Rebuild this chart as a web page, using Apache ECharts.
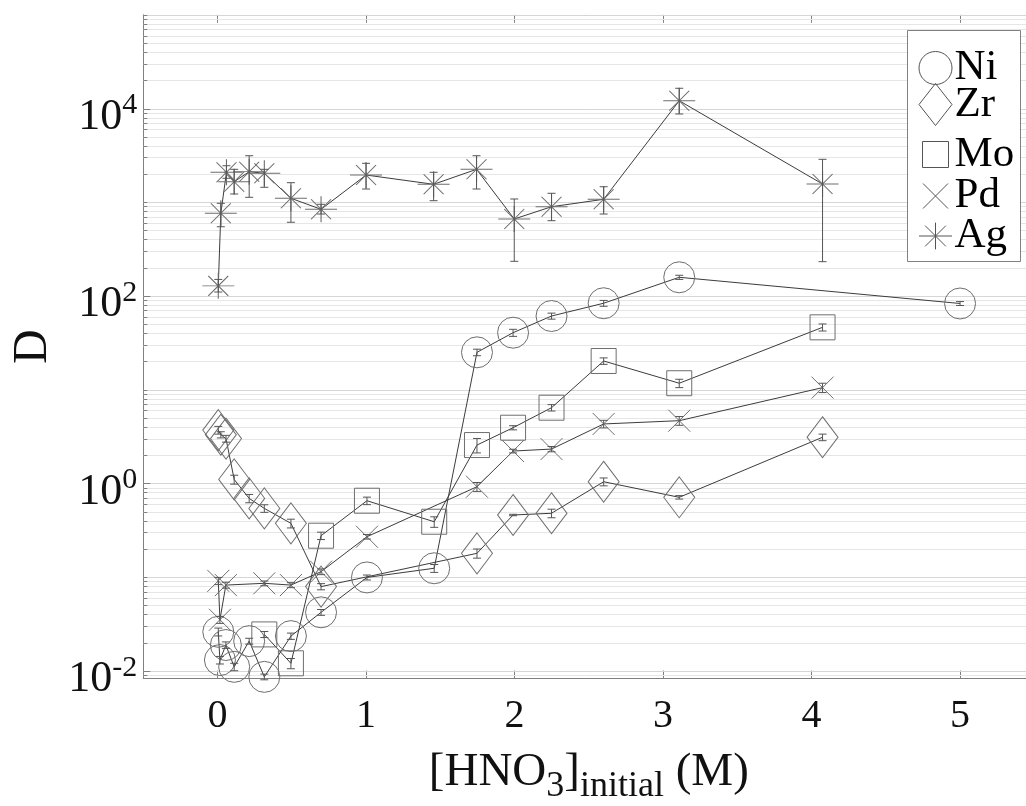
<!DOCTYPE html>
<html>
<head>
<meta charset="utf-8">
<script src="https://cdn.jsdelivr.net/npm/echarts@6/dist/echarts.min.js"></script>
<style>
  html, body { margin: 0; padding: 0; background: #fff; }
  #chart { width: 1026px; height: 806px; }
</style>
</head>
<body>
<div id="chart"></div>
<script>
// Distribution ratio D versus initial HNO3 concentration (M), per element.

const niX   = [0.005, 0.016, 0.056, 0.112, 0.213, 0.315, 0.494, 0.697, 1.006, 1.459, 1.747, 1.99, 2.249, 2.6, 3.109, 5.0];
const niD   = [0.026, 0.013, 0.0188, 0.011, 0.0207, 0.0086, 0.0234, 0.042, 0.099, 0.124, 25.0, 40.5, 61.0, 83.5, 158, 83];
const niErr = [0.0025, 0.0012, 0.0015, 0.001, 0.0015, 0.0006, 0.0018, 0.003, 0.006, 0.012, 2.0, 3.5, 4.5, 6.0, 8.0, 4.0];

const zrX   = [0.005, 0.022, 0.057, 0.112, 0.213, 0.315, 0.494, 0.697, 1.747, 1.99, 2.249, 2.6, 3.109, 4.074];
const zrD   = [3.7, 3.3, 3.0, 1.10, 0.69, 0.54, 0.374, 0.079, 0.179, 0.459, 0.479, 1.04, 0.709, 3.10];
const zrErr = [0.35, 0.25, 0.25, 0.12, 0.07, 0.05, 0.04, 0.006, 0.02, 0.008, 0.05, 0.1, 0.03, 0.25];

const moX   = [0.315, 0.494, 0.697, 1.006, 1.459, 1.747, 1.99, 2.249, 2.6, 3.109, 4.074];
const moD   = [0.0244, 0.0120, 0.276, 0.652, 0.389, 2.56, 3.92, 6.41, 20.2, 11.7, 46.2];
const moErr = [0.0018, 0.0015, 0.025, 0.06, 0.05, 0.45, 0.2, 0.5, 1.6, 1.2, 4.0];

const pdX   = [0.005, 0.016, 0.056, 0.315, 0.494, 0.697, 1.006, 1.747, 1.99, 2.249, 2.6, 3.109, 4.074];
const pdD   = [0.091, 0.035, 0.082, 0.0857, 0.082, 0.114, 0.269, 0.92, 2.21, 2.32, 4.30, 4.66, 10.5];
const pdErr = [0.008, 0.003, 0.006, 0.005, 0.005, 0.008, 0.015, 0.1, 0.1, 0.15, 0.4, 0.5, 1.2];

const agX    = [0.005, 0.022, 0.06, 0.112, 0.213, 0.315, 0.494, 0.697, 1.0, 1.455, 1.744, 1.998, 2.249, 2.6, 3.109, 4.074];
const agD    = [128, 762, 2085, 1656, 2118, 2034, 1102, 840, 1950, 1553, 2244, 662, 895, 1074, 12100, 1564];
const agLow  = [110, 547, 1800, 1224, 1128, 1443, 611, 748, 1383, 1038, 1383, 234, 635, 748, 8740, 232];
const agHigh = [150, 973, 2450, 2244, 3134, 2244, 1615, 950, 2600, 2085, 3134, 1082, 1245, 1463, 16440, 2870];

// Axis ranges and labelled decades
const xRange = [-0.5, 5.5];
const yRange = [0.00826, 1e5];
const yLabelExponents = [-2, 0, 2, 4];

const SERIF = 'Liberation Serif';
const MARK = '#6e6e6e';
const LINE = '#3c3c3c';
const AXIS = '#808080';

const SYM_X = 'path://M0,0 L20,20 M20,0 L0,20';
const SYM_STAR = 'path://M0,13 L32,13 M16,0 L16,26 M6,3 L26,23 M26,3 L6,23';

const elements = [
  { name: 'Ni', x: niX, d: niD, err: niErr, symbol: 'circle', size: 31, legendW: 33, legendH: 33 },
  { name: 'Zr', x: zrX, d: zrD, err: zrErr, symbol: 'diamond', size: [31, 41], legendW: 33, legendH: 42 },
  { name: 'Mo', x: moX, d: moD, err: moErr, symbol: 'rect', size: 25, legendW: 26, legendH: 26 },
  { name: 'Pd', x: pdX, d: pdD, err: pdErr, symbol: SYM_X, size: [22, 22], legendW: 25, legendH: 25 },
  { name: 'Ag', x: agX, d: agD, low: agLow, high: agHigh, symbol: SYM_STAR, size: [32, 26], legendW: 33, legendH: 27 }
];
const legendCenters = [63, 104, 146, 187, 228];

// Horizontal grid values: every 1..9 x 10^k inside the y range
const gridValues = [];
for (let k = -3; k <= 5; k++) {
  for (let m = 1; m <= 9; m++) {
    const v = m * Math.pow(10, k);
    if (v >= yRange[0] * 0.999 && v <= yRange[1] * 1.001) gridValues.push([xRange[0], v, m === 1 ? 1 : 0, k]);
  }
}

function renderGrid(params, api) {
  const v = api.value(1);
  const decade = api.value(2) === 1;
  const labelled = decade && yLabelExponents.indexOf(api.value(3)) >= 0;
  const p = api.coord([xRange[0], v]);
  const cs = params.coordSys;
  const y = Math.round(p[1]) + 0.5;
  return {
    type: 'group',
    children: [
      { type: 'line', shape: { x1: cs.x, y1: y, x2: cs.x + cs.width, y2: y },
        style: { stroke: decade ? '#d6d6d6' : '#e6e6e6', lineWidth: 1 } },
      { type: 'line', shape: { x1: cs.x, y1: y, x2: cs.x + (labelled ? 7 : 4), y2: y },
        style: { stroke: AXIS, lineWidth: 1 } }
    ]
  };
}

function renderErr(params, api) {
  const x = api.value(0);
  const a = api.coord([x, api.value(1)]);
  const b = api.coord([x, api.value(2)]);
  const c = 4;
  const style = { stroke: '#555', lineWidth: 1 };
  return {
    type: 'group',
    children: [
      { type: 'line', shape: { x1: a[0], y1: a[1], x2: b[0], y2: b[1] }, style },
      { type: 'line', shape: { x1: a[0] - c, y1: a[1], x2: a[0] + c, y2: a[1] }, style },
      { type: 'line', shape: { x1: b[0] - c, y1: b[1], x2: b[0] + c, y2: b[1] }, style }
    ]
  };
}

const series = [{
  type: 'custom',
  name: 'grid',
  silent: true,
  z: 1,
  renderItem: renderGrid,
  data: gridValues,
  encode: { x: 0, y: 1 },
  clip: false
}];

elements.forEach(function (el) {
  const pts = el.x.map(function (x, i) { return [x, el.d[i]]; });
  const bars = el.x.map(function (x, i) {
    if (el.low) return [x, el.low[i], el.high[i]];
    return [x, el.d[i] - el.err[i], el.d[i] + el.err[i]];
  });
  series.push({
    type: 'line',
    name: el.name,
    data: pts,
    symbol: el.symbol,
    symbolSize: el.size,
    showAllSymbol: true,
    silent: true,
    z: 3,
    lineStyle: { color: LINE, width: 1 },
    itemStyle: { color: 'rgba(0,0,0,0)', borderColor: MARK, borderWidth: 1 },
    emphasis: { disabled: true }
  });
  series.push({
    type: 'custom',
    name: el.name + ' error',
    silent: true,
    z: 4,
    renderItem: renderErr,
    data: bars,
    encode: { x: 0, y: [1, 2] }
  });
});

const legends = elements.map(function (el, i) {
  return {
    data: [{ name: el.name, icon: el.symbol }],
    left: 935 - el.legendW / 2,
    top: legendCenters[i] - el.legendH / 2,
    padding: 0,
    itemWidth: el.legendW,
    itemHeight: el.legendH,
    itemGap: 0,
    selectedMode: false,
    z: 20,
    textStyle: { fontFamily: SERIF, fontSize: 43, color: '#000', lineHeight: 20, padding: [0, 0, 0, 954 - (935 + el.legendW / 2) - 5] },
    itemStyle: { color: 'rgba(0,0,0,0)', borderColor: '#555', borderWidth: 1 }
  };
});

const option = {
  animation: false,
  backgroundColor: '#fff',
  grid: { left: 143.3, top: 14.8, right: -8.3, bottom: 127.5, containLabel: false, outerBoundsMode: 'none' },
  graphic: {
    elements: [{
      type: 'rect', z: 10, silent: true,
      shape: { x: 907.5, y: 30.5, width: 113, height: 231 },
      style: { fill: '#fff', stroke: AXIS, lineWidth: 1 }
    }]
  },
  legend: legends,
  xAxis: [{
    type: 'value', min: xRange[0], max: xRange[1], position: 'bottom',
    name: '{m|[HNO}{s|3}{m|]}{s|initial}{m| (M)}',
    nameLocation: 'middle', nameGap: 62,
    nameTextStyle: {
      rich: {
        m: { fontFamily: SERIF, fontSize: 47, color: '#111' },
        s: { fontFamily: SERIF, fontSize: 36, color: '#111', padding: [28, 0, 0, 0] }
      }
    },
    axisLine: { show: true, onZero: false, lineStyle: { color: AXIS, width: 1 } },
    axisTick: { show: true, inside: true, length: 8, lineStyle: { color: AXIS } },
    axisLabel: {
      margin: 18, fontFamily: SERIF, fontSize: 40, color: '#111',
      formatter: function (v) { return Math.abs(v - Math.round(v)) < 1e-9 ? String(Math.round(v)) : ''; }
    },
    splitLine: { show: false }
  }, {
    type: 'value', min: xRange[0], max: xRange[1], position: 'top',
    axisLine: { show: true, onZero: false, lineStyle: { color: AXIS, width: 1 } },
    axisTick: { show: true, inside: true, length: 8, lineStyle: { color: AXIS } },
    axisLabel: { show: false },
    splitLine: { show: false }
  }],
  yAxis: {
    type: 'log', logBase: 10, min: yRange[0], max: yRange[1], position: 'left',
    name: 'D', nameLocation: 'middle', nameGap: 76, nameRotate: 90,
    nameTextStyle: { fontFamily: SERIF, fontSize: 48, color: '#111' },
    axisLine: { show: true, onZero: false, lineStyle: { color: AXIS, width: 1 } },
    axisTick: { show: false },
    splitLine: { show: false },
    minorTick: { show: false },
    axisLabel: {
      margin: 6,
      padding: [18, 0, 0, 0],
      formatter: function (v) {
        const l = Math.log10(v);
        const e = Math.round(l);
        if (Math.abs(l - e) > 1e-6 || yLabelExponents.indexOf(e) < 0) return '';
        return '{b|10}{s|' + e + '}';
      },
      rich: {
        b: { fontFamily: SERIF, fontSize: 44, color: '#111' },
        s: { fontFamily: SERIF, fontSize: 30, color: '#111', padding: [0, 0, 24, 0] }
      }
    }
  },
  series: series
};

const chart = echarts.init(document.getElementById('chart'), null, { renderer: 'canvas' });
chart.setOption(option);
</script>
</body>
</html>
